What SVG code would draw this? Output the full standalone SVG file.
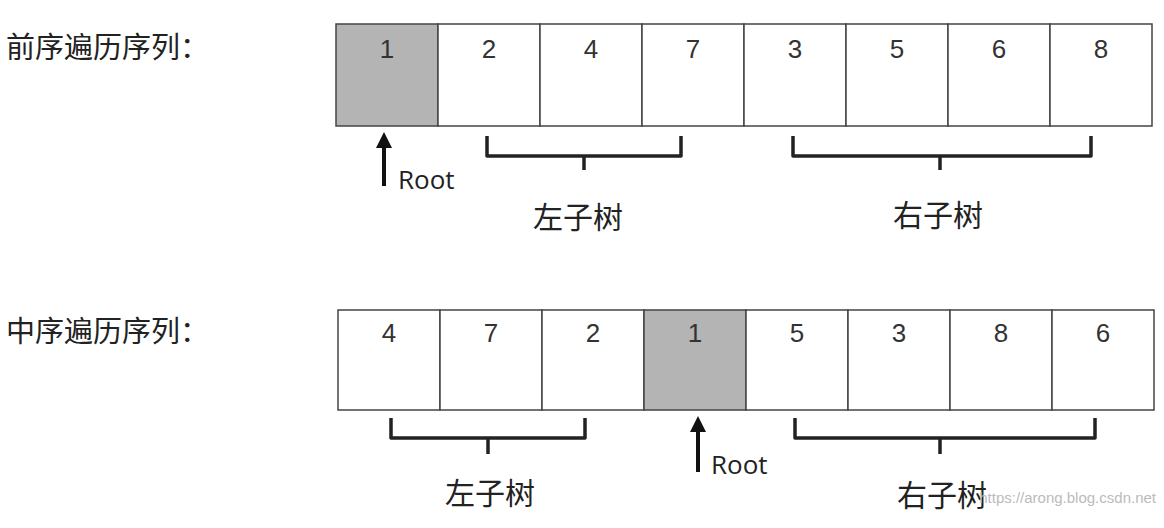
<svg xmlns="http://www.w3.org/2000/svg" width="1164" height="528" viewBox="0 0 1164 528">
<style>
.cell{fill:#fff;stroke:#444;stroke-width:1.5}
.root{fill:#b4b4b4}
.num{font-family:"Liberation Sans","DejaVu Sans",sans-serif;font-size:26px;fill:#333;text-anchor:middle}
.lbl{font-family:"Noto Sans CJK SC",sans-serif;font-size:29px;fill:#222}
.sub{font-family:"Noto Sans CJK SC",sans-serif;font-size:30px;fill:#222;text-anchor:middle}
.rt{font-family:"Open Sans","DejaVu Sans",sans-serif;font-size:26px;fill:#222}
.br{fill:none;stroke:#222;stroke-width:3.5;stroke-linejoin:round}
.ar{stroke:#111;stroke-width:4}
</style>
<defs><marker id="ah" markerWidth="4" markerHeight="4" refX="2" refY="2" orient="auto"><path d="M0,0L4,2L0,4z" fill="#111"/></marker></defs>
<rect width="1164" height="528" fill="#fff"/>
<text class="lbl" x="6" y="58">前序遍历序列：</text>
<text class="lbl" x="6" y="342">中序遍历序列：</text>
<g id="pre">
<rect class="cell root" x="336" y="24" width="102" height="102"/>
<rect class="cell" x="438" y="24" width="102" height="102"/>
<rect class="cell" x="540" y="24" width="102" height="102"/>
<rect class="cell" x="642" y="24" width="102" height="102"/>
<rect class="cell" x="744" y="24" width="102" height="102"/>
<rect class="cell" x="846" y="24" width="102" height="102"/>
<rect class="cell" x="948" y="24" width="102" height="102"/>
<rect class="cell" x="1050" y="24" width="102" height="102"/>
<text class="num" x="387" y="58">1</text><text class="num" x="489" y="58">2</text><text class="num" x="591" y="58">4</text><text class="num" x="693" y="58">7</text><text class="num" x="795" y="58">3</text><text class="num" x="897" y="58">5</text><text class="num" x="999" y="58">6</text><text class="num" x="1101" y="58">8</text>
</g>
<g id="in">
<rect class="cell" x="338" y="310" width="102" height="100"/>
<rect class="cell" x="440" y="310" width="102" height="100"/>
<rect class="cell" x="542" y="310" width="102" height="100"/>
<rect class="cell root" x="644" y="310" width="102" height="100"/>
<rect class="cell" x="746" y="310" width="102" height="100"/>
<rect class="cell" x="848" y="310" width="102" height="100"/>
<rect class="cell" x="950" y="310" width="102" height="100"/>
<rect class="cell" x="1052" y="310" width="102" height="100"/>
<text class="num" x="389" y="342">4</text><text class="num" x="491" y="342">7</text><text class="num" x="593" y="342">2</text><text class="num" x="695" y="342">1</text><text class="num" x="797" y="342">5</text><text class="num" x="899" y="342">3</text><text class="num" x="1001" y="342">8</text><text class="num" x="1103" y="342">6</text>
</g>
<g id="connectors">
<path class="br" d="M487,136V156H584V170M584,156H681V136"/>
<path class="br" d="M793,136V156H940V170M940,156H1091V136"/>
<path class="br" d="M391,418V438H488V454M488,438H585V418"/>
<path class="br" d="M795,418V438H940V454M940,438H1095V418"/>
<line class="ar" x1="384" y1="186" x2="384" y2="140" marker-end="url(#ah)"/>
<line class="ar" x1="698" y1="472" x2="698" y2="424" marker-end="url(#ah)"/>
</g>
<text class="rt" x="398" y="189">Root</text>
<text class="rt" x="711" y="474">Root</text>
<text class="sub" x="578" y="228">左子树</text>
<text class="sub" x="938" y="226">右子树</text>
<text class="sub" x="490" y="504">左子树</text>
<text class="sub" x="942" y="506">右子树</text>
<text x="1156" y="503" font-family="Liberation Sans,sans-serif" font-size="15" fill="#bbb" text-anchor="end">https://arong.blog.csdn.net</text>
</svg>
